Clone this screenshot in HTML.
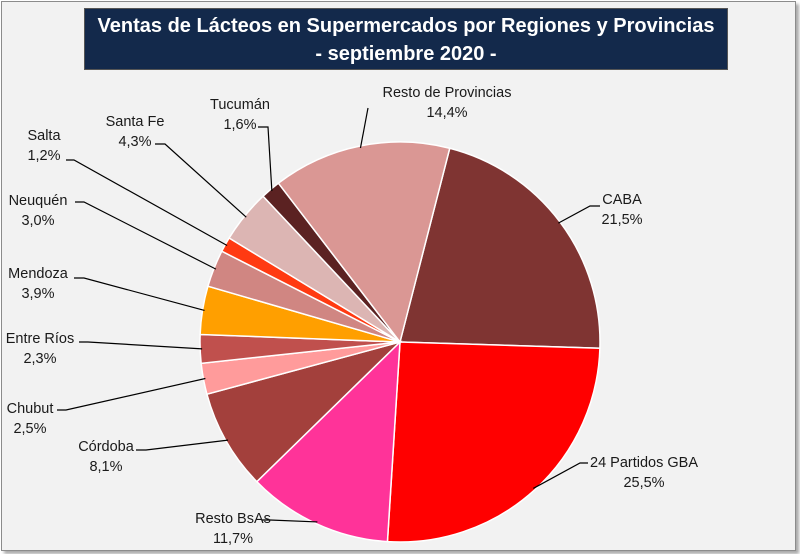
<!DOCTYPE html>
<html><head><meta charset="utf-8"><style>
body{margin:0;background:#fff;}
#wrap{position:relative;width:800px;height:554px;overflow:hidden;font-family:"Liberation Sans",sans-serif;}
#frame{position:absolute;left:1px;top:1px;width:793px;height:548px;background:#f2f2f2;border:1px solid #8c8c8c;box-shadow:3px 3px 3px #aaa;}
#title{position:absolute;left:84px;top:8px;width:644px;height:62px;background:#13294b;border:1px solid #555;color:#fff;font-weight:bold;font-size:20px;text-align:center;line-height:28px;padding-top:3px;box-sizing:border-box;}
svg{position:absolute;left:0;top:0;}
</style></head><body>
<div id="wrap">
<div id="frame"></div>
<div id="title">Ventas de Lácteos en Supermercados por Regiones y Provincias<br>- septiembre 2020 -</div>
<svg id="chart" width="800" height="554"></svg>
</div>
<script>
const categories=["CABA","24 Partidos GBA","Resto BsAs","Córdoba","Chubut","Entre Ríos","Mendoza","Neuquén","Salta","Santa Fe","Tucumán","Resto de Provincias"];
const values=[21.5,25.5,11.7,8.1,2.5,2.3,3.9,3.0,1.2,4.3,1.6,14.4];
const valueLabels=["21,5%","25,5%","11,7%","8,1%","2,5%","2,3%","3,9%","3,0%","1,2%","4,3%","1,6%","14,4%"];
const colors=["#7f3432","#ff0000","#ff3399","#a3403c","#ff9b9b","#c0504d","#ff9f00","#d08682","#ff3a12","#dcb5b3","#5b2222","#da9794"];
// label layout: [textCenterX, line1Y, lineStartX, lineStartY, elbowX]
const layout=[[622,204,600,206,590],[644,467,588,463,580],[233,523,262,520,270],[106,451,136,450,146],[30,413,57,410,66],[40,343,79,342,88],[38,278,74,278,84],[38,205,75,202,84],[44,140,66,160,74],[135,126,155,144,165],[240,109,258,127,268],[447,97,368,108,368]];
const svg=document.getElementById('chart');
const NS='http://www.w3.org/2000/svg';
const cx=400,cy=342,r=200,start=14.4;
const total=values.reduce((a,b)=>a+b,0);
function pt(deg,rad){const a=(deg-90)*Math.PI/180;return [cx+rad*Math.cos(a),cy+rad*Math.sin(a)];}
let acc=start;
values.forEach((v,i)=>{
  const a0=acc,a1=acc+v/total*360;acc=a1;
  const p0=pt(a0,r),p1=pt(a1,r);
  const path=document.createElementNS(NS,'path');
  path.setAttribute('d',`M${cx},${cy}L${p0[0]},${p0[1]}A${r},${r} 0 ${a1-a0>180?1:0} 1 ${p1[0]},${p1[1]}Z`);
  path.setAttribute('fill',colors[i]);
  path.setAttribute('stroke','#fff');
  path.setAttribute('stroke-width','1.5');
  
  
  svg.appendChild(path);
});
acc=start;
values.forEach((v,i)=>{
  const a0=acc,a1=acc+v/total*360;acc=a1;
  const mid=(a0+a1)/2;
  const e=pt(mid,r-2);
  const L=layout[i];
  const line=document.createElementNS(NS,'polyline');
  line.setAttribute('points',`${L[2]},${L[3]} ${L[4]},${L[3]} ${e[0]},${e[1]}`);
  line.setAttribute('fill','none');
  line.setAttribute('stroke','#000');
  line.setAttribute('stroke-width','1.2');
  
  
  svg.appendChild(line);
  const t=document.createElementNS(NS,'text');
  t.setAttribute('x',L[0]);t.setAttribute('y',L[1]);
  t.setAttribute('text-anchor','middle');
  t.setAttribute('font-size','14.5');
  t.setAttribute('fill','#1a1a1a');
  t.setAttribute('font-family','"Liberation Sans",sans-serif');
  
  
  const s1=document.createElementNS(NS,'tspan');s1.setAttribute('x',L[0]);s1.textContent=categories[i];
  const s2=document.createElementNS(NS,'tspan');s2.setAttribute('x',L[0]);s2.setAttribute('dy','20');s2.textContent=valueLabels[i];
  t.appendChild(s1);t.appendChild(s2);
  svg.appendChild(t);
});
</script>
</body></html>
